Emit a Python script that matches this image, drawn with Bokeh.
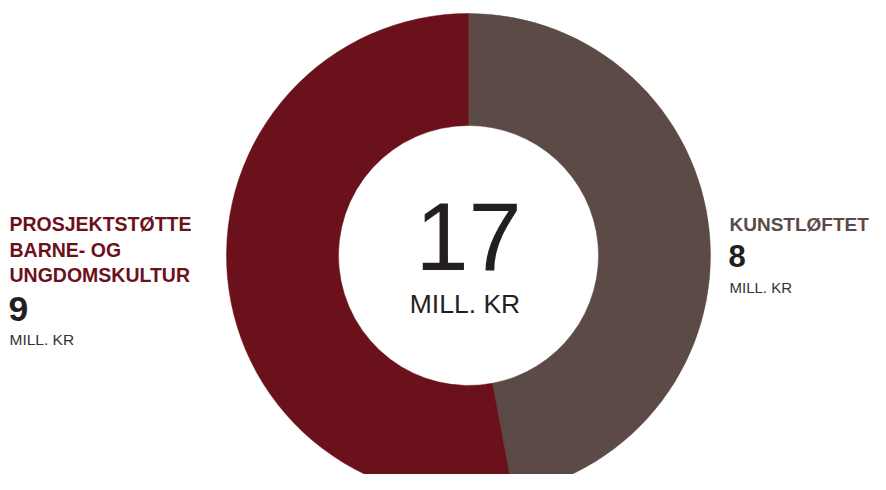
import math
from bokeh.plotting import figure
from bokeh.models import Range1d, ColumnDataSource
from bokeh.core.properties import value
from bokeh.embed import file_html
from bokeh.resources import INLINE

# ---- data ----
categories = ["KUNSTLØFTET", "PROSJEKTSTØTTE\nBARNE- OG\nUNGDOMSKULTUR"]
amounts = [8, 9]
colors = ["#5B4A46", "#6A111B"]
unit = "MILL. KR"
total = sum(amounts)

W, H = 870, 474
RH = 490                    # reference height (pixel coordinates, y down)
p = figure(width=W, height=H, output_backend="svg", toolbar_location=None,
           x_range=Range1d(0, W), y_range=Range1d(RH - H, RH),
           min_border=0, outline_line_color=None)
p.axis.visible = False
p.grid.visible = False
p.background_fill_color = "white"
p.border_fill_color = "white"

cx, cy = 468, RH - 255
r_in, r_out = 130, 242

# angles: start at top, clockwise
starts, ends = [], []
acc = 0
for v in amounts:
    a0 = math.pi / 2 - 2 * math.pi * acc / total
    acc += v
    a1 = math.pi / 2 - 2 * math.pi * acc / total
    starts.append(a0)
    ends.append(a1)

src = ColumnDataSource(dict(start=starts, end=ends, color=colors,
                            x=[cx] * 2, y=[cy] * 2))
p.annular_wedge(x="x", y="y", inner_radius=r_in, outer_radius=r_out,
                start_angle="start", end_angle="end", direction="clock",
                fill_color="color", line_color="color", line_width=0.5, source=src)

font = value("Liberation Sans")
K = 0.375  # empirical baseline correction (fraction of font size)


def put(x, baseline, txt, size, bold=False, align="left", color="#231F20"):
    y = RH - baseline + K * size
    p.text(x=[x], y=[y], text=[txt], text_font=font,
           text_font_size=f"{size}px",
           text_font_style="bold" if bold else "normal",
           text_align=align, text_baseline="alphabetic", text_color=color)


# centre total
put(cx, 272, str(total), 95.5, align="center")
put(464.5, 313, unit, 26.5, align="center")

# left label (second category)
left_lines = categories[1].split("\n")
for line, b in zip(left_lines, [231, 256.5, 282]):
    put(9, b, line, 19.5, bold=True, color=colors[1])
put(8, 322, str(amounts[1]), 35.5, bold=True)
put(9, 345, unit, 15.5, color="#333333")

# right label (first category)
RX = 729
put(RX, 231, categories[0], 19, bold=True, color=colors[0])
put(RX - 1, 267, str(amounts[0]), 31, bold=True)
put(RX, 293, unit, 15, color="#333333")

open("out.html", "w").write(file_html(p, INLINE))
